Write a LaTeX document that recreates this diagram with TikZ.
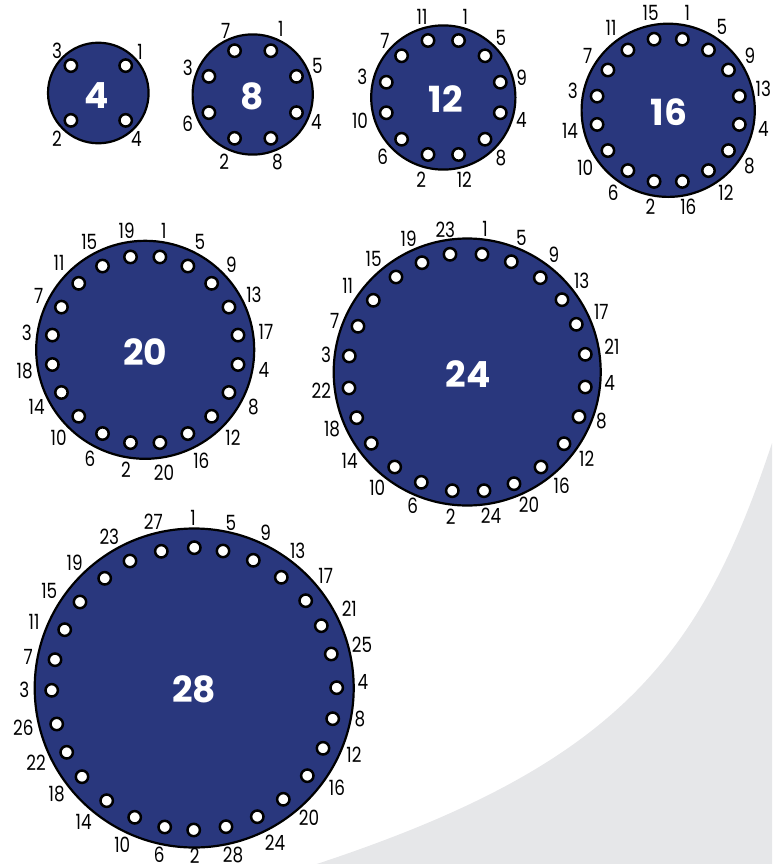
\documentclass[tikz,border=0pt]{standalone}
\usepackage{fontspec}
\setmainfont{Poppins}
\newfontfamily\pinfont[FakeStretch=0.8]{Poppins}
\usetikzlibrary{calc}
\definecolor{colPlate}{HTML}{29377D}
\definecolor{colSweep}{HTML}{E6E7E9}
\tikzset{
	plate/.style={circle, draw=black, line width=2.2pt, fill=colPlate, inner sep=0pt},
	hole/.style={circle, draw=black, line width=2.5pt, fill=white, minimum size=12.4pt, inner sep=0pt},
	pinlbl/.style={inner sep=0pt, font=\pinfont\fontsize{21}{23}\selectfont},
	platenum/.style={inner sep=0pt, text=white, font=\bfseries\fontsize{36}{38}\selectfont}
}
\begin{document}
\begin{tikzpicture}[x=1pt, y=-1pt]
	\useasboundingbox (0,0) rectangle (772,864);
	\fill[colSweep] (316.7,864) .. controls (616.7,765) and (701,658) .. (772,443) -- (772,864) -- cycle;
	\foreach \cnt/\cx/\cy/\rad in {4/98.3/93/50.3, 8/252.7/94.5/60.1, 12/443.3/97.5/72.1, 16/668.2/110.3/86.6, 20/145.2/349.8/109, 24/467.2/372/133.5, 28/194.2/688/159.5}{
		\node[plate, minimum size=2*\rad pt] (plate\cnt) at (\cx,\cy) {};
	}
	\foreach \cnt/\rad in {4/38.7, 8/47.4, 12/59, 16/72.5, 20/94}{
		\pgfmathtruncatemacro{\last}{\cnt}
		\foreach \i in {1,...,\last}{
			\node[hole] (h\cnt-\i) at ($(plate\cnt)+({-90+(\i-0.5)*360/\cnt}:\rad)$) {};
		}
	}
	\foreach \i/\x/\y in {1/482/254.3, 2/511.3/261.7, 3/540.3/277.7, 4/562/299.7, 5/576.3/324.3, 6/585.3/354.3, 7/585.3/387, 8/579/416.7, 9/564/443.7, 10/541/467, 11/514/483.7, 12/484/490.7, 13/452.3/490.7, 14/421.3/482.3, 15/394.7/467, 16/371.3/443.3, 17/356.7/417.7, 18/349/388, 19/349.3/356, 20/358/326.3, 21/373.3/300.3, 22/396/277, 23/422/262.7, 24/450/254.3}{
		\node[hole] (h24-\i) at (\x,\y) {};
	}
	\foreach \i/\x/\y in {1/194.3/547.7, 2/223/551, 3/253.3/560.3, 4/281.3/577.3, 5/305.7/600.7, 6/321.3/625.7, 7/331.3/654, 8/336.7/687.7, 9/332.7/718.7, 10/323/748.3, 11/307.3/775.7, 12/283.3/799.3, 13/257.3/816.7, 14/226/826.7, 15/193.7/830, 16/164.7/827, 17/134.7/817.3, 18/106.7/800.7, 19/82/776.7, 20/66.7/752.3, 21/56.7/724, 22/51.7/690.3, 23/55/659.7, 24/64.7/629.7, 25/80/602, 26/104.7/578.3, 27/130/561, 28/161.3/551.3}{
		\node[hole] (h28-\i) at (\x,\y) {};
	}
	\foreach \cnt/\x/\y in {4/96.7/95.7, 8/251.7/96, 12/445.7/99.3, 16/669/111.7, 20/145.3/352.3, 24/468/374, 28/194.3/689.7}{
		\node[platenum] (num\cnt) at (\x,\y) {\cnt};
	}
	\foreach \t/\x/\y in {1/140/51.7, 4/136.3/139, 2/57/139, 3/57/51}{
		\node[pinlbl] (a\t) at (\x,\y) {\t};
	}
	\foreach \t/\x/\y in {1/280.7/29, 5/317.3/66, 4/316.3/122, 8/277.3/162.3, 2/224.3/161.7, 6/187.7/124, 3/187.7/67.7, 7/225.7/31}{
		\node[pinlbl] (b\t) at (\x,\y) {\t};
	}
	\foreach \t/\x/\y in {1/465.3/17.3, 5/501/38.3, 9/521.7/77.3, 4/521.3/120.3, 8/501/157.7, 12/464.3/180, 2/421.3/180, 6/382.7/157, 10/360/120.3, 3/362.3/77.3, 7/385/40.7, 11/422/16.7}{
		\node[pinlbl] (c\t) at (\x,\y) {\t};
	}
	\foreach \t/\x/\y in {1/687.3/13.3, 5/722/27.3, 9/750/56, 13/763.3/89.3, 4/763.3/129.3, 8/749.3/165.7, 12/726/192.7, 16/688.3/207, 2/650.5/207, 6/613.3/192.3, 10/585.3/167.3, 14/570/130.7, 3/572.7/90.7, 7/587.7/55.7, 11/611/28.3, 15/650.7/13.3}{
		\node[pinlbl] (d\t) at (\x,\y) {\t};
	}
	\foreach \t/\x/\y in {1/163.7/230.7, 5/200/242.3, 9/231.3/265, 13/254/295, 17/266/332.3, 4/264/370, 8/253.3/406.7, 12/233/438, 16/201.3/460.7, 20/164/472.3, 2/126/470, 6/90/458.3, 10/58.7/438, 14/36.7/407.3, 18/24.7/371, 3/26.7/332.7, 7/38.7/296, 11/59/263.3, 15/89.3/241.7, 19/126.7/230.7}{
		\node[pinlbl] (e\t) at (\x,\y) {\t};
	}
	\foreach \t/\x/\y in {1/485/229, 5/521.3/238.3, 9/554/255, 13/581.7/281, 17/601.3/312.3, 21/612/346.3, 4/609.7/383.3, 8/601.3/421, 12/586.7/458.3, 16/561.7/486, 20/529/505, 24/491/515.7, 2/450.7/516.7, 6/412.7/506, 10/377.3/487.3, 14/349.7/461.3, 18/332/429.3, 22/321.3/391, 3/326/355.3, 7/334.7/321, 11/347.7/286, 15/373.7/259, 19/408.7/239, 23/445.3/230}{
		\node[pinlbl] (f\t) at (\x,\y) {\t};
	}
	\foreach \t/\x/\y in {1/193/518.3, 5/231/523.3, 9/265.7/532.7, 13/297.7/550.7, 17/325.7/576, 21/349.3/609, 25/362/645, 4/363/681.7, 8/360/719.3, 12/354/755, 16/337/787.7, 20/309/817.3, 24/275/842.3, 28/233/854.5, 2/194.7/856, 6/159.3/854.8, 10/122.3/844.3, 14/83.7/822.3, 18/56.7/794.3, 22/36/762.7, 26/23.3/727.3, 3/24.3/690.3, 7/28.3/656.7, 11/34/622.3, 15/49.3/591, 19/74.7/562.7, 23/109.3/537.3, 27/153.3/522}{
		\node[pinlbl] (g\t) at (\x,\y) {\t};
	}
\end{tikzpicture}
\end{document}
